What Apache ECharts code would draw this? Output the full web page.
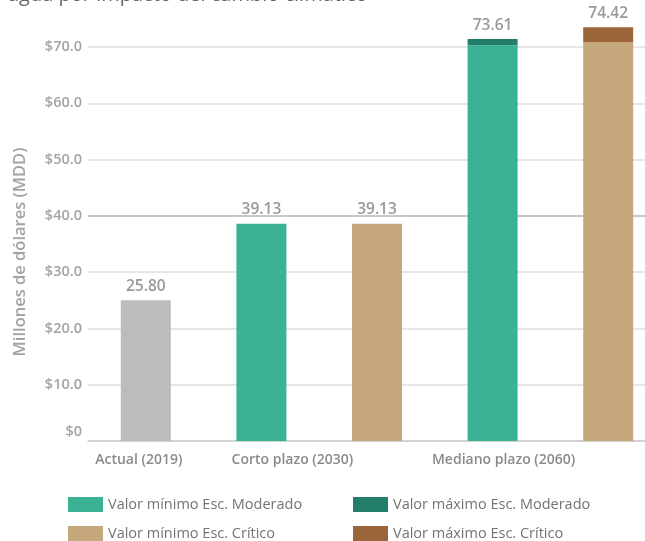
<!DOCTYPE html>
<html>
<head>
<meta charset="utf-8">
<script src="https://cdn.jsdelivr.net/npm/echarts@6/dist/echarts.min.js"></script>
<style>html,body{margin:0;padding:0;background:#fff;overflow:hidden;width:645px;height:541px}#c{width:666px;height:541px}</style>
</head>
<body>
<div id="c"></div>
<script>
// Data
var categories = ['Actual (2019)', 'Corto plazo (2030)', '', 'Mediano plazo (2060)', ''];
var actualValues = [25.0, null, null, null, null];
var modMinValues = [null, 38.6, null, 70.3, null];
var modMaxValues = [null, null, null, 1.1, null];
var critMinValues = [null, null, 38.6, null, 70.9];
var critMaxValues = [null, null, null, null, 2.6];
var barLabels = ['25.80', '39.13', '39.13', '73.61', '74.42'];
var yTicks = [0, 10, 20, 30, 40, 50, 60, 70];
var seriesNames = ['Valor mínimo Esc. Moderado', 'Valor máximo Esc. Moderado', 'Valor mínimo Esc. Crítico', 'Valor máximo Esc. Crítico'];
var titleText = 'agua por impacto del cambio climático';
var yName = 'Millones de dólares (MDD)';

var FONT = '"Open Sans", "Noto Sans", sans-serif';
var chart = echarts.init(document.getElementById('c'));

var labelOwner = ['actual', 'modMin', 'critMin', 'modMax', 'critMax'];
function withLabels(arr, key) {
  return arr.map(function (v, i) {
    if (v == null) return null;
    return { value: v, label: { show: labelOwner[i] === key } };
  });
}
var labelCfg = {
  position: 'top', distance: 6,
  fontFamily: FONT, fontSize: 15.5, fontWeight: 600, color: '#999',
  formatter: function (p) { return barLabels[p.dataIndex]; }
};
var catPad = [[0, 14, 0, 0], [0, 0, 0, 62], [0, 0, 0, 0], [0, 0, 0, 22], [0, 0, 0, 0]];

var legendPos = [[63, 492], [348, 492], [63, 521], [348, 521]];
var legends = seriesNames.map(function (n, i) {
  return {
    left: legendPos[i][0], top: legendPos[i][1],
    itemWidth: 35, itemHeight: 15, icon: 'rect', itemGap: 5,
    data: [n],
    textStyle: { fontFamily: FONT, fontSize: 14.5, color: '#737373' }
  };
});

chart.setOption({
  animation: false,
  graphic: [{
    type: 'text', left: 8, top: -15,
    style: { text: titleText, font: '20px ' + FONT, fill: '#666' }
  }],
  grid: { left: 88, right: 0, top: 47, bottom: 100, containLabel: false },
  legend: legends,
  xAxis: {
    type: 'category',
    data: categories.map(function (c, i) {
      return { value: c, textStyle: { padding: catPad[i] } };
    }),
    axisTick: { show: false },
    axisLine: { show: true, lineStyle: { color: '#cfcfcf', width: 1.5 } },
    axisLabel: { interval: 0, margin: 12, fontFamily: FONT, fontSize: 14, fontWeight: 600, color: '#8a8a8a' }
  },
  yAxis: {
    type: 'value', min: 0, max: 70, interval: 10,
    name: yName, nameLocation: 'middle', nameGap: 59, nameRotate: 90,
    nameTextStyle: { fontFamily: FONT, fontSize: 16.5, fontWeight: 600, color: '#a3a3a3', padding: [0, 16, 0, 0] },
    axisLine: { show: false }, axisTick: { show: false },
    splitLine: { lineStyle: { color: ['#cfcfcf', '#dedede', '#dedede', '#dedede', '#b5b5b5', '#dedede', '#dedede', '#dedede'], width: 1.5 } },
    axisLabel: {
      margin: 6, fontFamily: FONT, fontSize: 14.5, fontWeight: 600, color: '#a3a3a3',
      formatter: function (v) {
        if (yTicks.indexOf(v) < 0) return '';
        return v === 0 ? '{z|$0}' : '$' + v.toFixed(1);
      },
      rich: { z: { fontFamily: FONT, fontSize: 14.5, fontWeight: 600, color: '#a3a3a3', padding: [0, 0, 18, 0] } }
    }
  },
  series: [{
    name: 'Actual', type: 'bar', barWidth: 50, barGap: '-100%', clip: false,
    itemStyle: { color: '#bcbcbc' }, label: labelCfg,
    data: withLabels(actualValues, 'actual')
  }, {
    name: seriesNames[0], type: 'bar', stack: 'mod', barWidth: 50, barGap: '-100%', clip: false,
    itemStyle: { color: '#3cb294' }, label: labelCfg,
    data: withLabels(modMinValues, 'modMin')
  }, {
    name: seriesNames[1], type: 'bar', stack: 'mod', barWidth: 50, barGap: '-100%', clip: false,
    itemStyle: { color: '#227e69' }, label: labelCfg,
    data: withLabels(modMaxValues, 'modMax')
  }, {
    name: seriesNames[2], type: 'bar', stack: 'crit', barWidth: 50, barGap: '-100%', clip: false,
    itemStyle: { color: '#c4a87b' }, label: labelCfg,
    data: withLabels(critMinValues, 'critMin')
  }, {
    name: seriesNames[3], type: 'bar', stack: 'crit', barWidth: 50, barGap: '-100%', clip: false,
    itemStyle: { color: '#9a6538' }, label: labelCfg,
    data: withLabels(critMaxValues, 'critMax')
  }]
});
</script>
</body>
</html>
